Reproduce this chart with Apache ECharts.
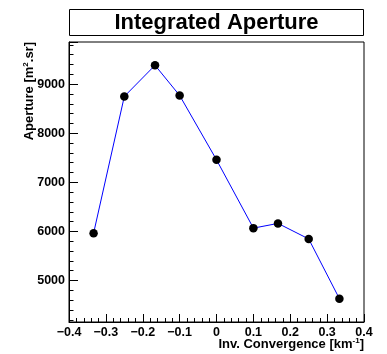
<!DOCTYPE html>
<html>
<head>
<meta charset="utf-8">
<script src="https://cdn.jsdelivr.net/npm/echarts@6/dist/echarts.min.js"></script>
<style>
html,body{margin:0;padding:0;background:#fff;}
#chart{width:387px;height:354px;}
</style>
</head>
<body>
<div id="chart"></div>
<script>
const titleText = 'Integrated Aperture';
const invConvergence = [-0.3333, -0.25, -0.1667, -0.1, 0, 0.1, 0.1667, 0.25, 0.3333];
const aperture = [5965, 8750, 9385, 8770, 7460, 6068, 6164, 5848, 4631];
const xMin = -0.4, xMax = 0.4, xStep = 0.1;
const yMin = 4156, yMax = 9859;

const FONT = '"Liberation Sans", Arial, Helvetica, sans-serif';
const chart = echarts.init(document.getElementById('chart'), null, {renderer: 'canvas'});

const points = invConvergence.map((x, i) => [x, aperture[i]]);

function fmtX(v) {
  const r = Math.round(v * 10) / 10;
  if (Math.abs(r) < 1e-9) return '0';
  return (r < 0 ? '\u2212' : '') + Math.abs(r).toFixed(1);
}

const nameRich = {
  m: {fontFamily: FONT, fontWeight: 'bold', fontSize: 13, color: '#000', lineHeight: 15},
  s: {fontFamily: FONT, fontWeight: 'bold', fontSize: 8, color: '#000', verticalAlign: 'top', lineHeight: 9}
};

chart.setOption({
  animation: false,
  backgroundColor: '#ffffff',
  title: {
    text: titleText,
    left: 216.5,
    top: 9,
    padding: 0,
    textAlign: 'center',
    textStyle: {fontFamily: FONT, fontWeight: 'bold', fontSize: 22, color: '#000', lineHeight: 27}
  },
  graphic: [{
    type: 'rect', z: -1, silent: true,
    shape: {x: 69.5, y: 9.5, width: 294, height: 26},
    style: {fill: '#fff', stroke: '#000', lineWidth: 1}
  }],
  grid: {
    left: 69, right: 23, top: 42, bottom: 32,
    containLabel: false, outerBoundsMode: 'none',
    show: true, borderColor: '#000', borderWidth: 1, backgroundColor: 'transparent'
  },
  xAxis: {
    type: 'value', min: xMin, max: xMax, interval: xStep,
    axisLine: {show: true, onZero: false, lineStyle: {color: '#000', width: 1}},
    axisTick: {show: true, inside: true, length: 8, lineStyle: {color: '#000'}},
    minorTick: {show: true, splitNumber: 5, length: 4, lineStyle: {color: '#000'}},
    splitLine: {show: false},
    axisLabel: {
      margin: 4, color: '#000', fontFamily: FONT, fontWeight: 'bold', fontSize: 12.5,
      formatter: fmtX, showMinLabel: true, showMaxLabel: true, hideOverlap: false
    },
    name: '{m|Inv. Convergence [km}{s|-1}{m|]}',
    nameLocation: 'end', nameGap: 0, nameMoveOverlap: false,
    nameTextStyle: {
      align: 'right', verticalAlign: 'top', padding: [15, 0, 0, 0],
      rich: nameRich
    }
  },
  yAxis: {
    type: 'value', min: yMin, max: yMax,
    axisLine: {show: true, onZero: false, lineStyle: {color: '#000', width: 1}},
    axisTick: {show: true, inside: true, length: 9, lineStyle: {color: '#000'}},
    minorTick: {show: true, splitNumber: 5, length: 4.5, lineStyle: {color: '#000'}},
    splitLine: {show: false},
    axisLabel: {
      margin: 4, color: '#000', fontFamily: FONT, fontWeight: 'bold', fontSize: 12.5,
      showMinLabel: false, showMaxLabel: false,
      formatter: v => String(Math.round(v))
    },
    name: '{m|Aperture [m}{s|2}{m|.sr]}',
    nameLocation: 'end', nameGap: 0, nameRotate: 90, nameMoveOverlap: false,
    nameTextStyle: {
      align: 'right', verticalAlign: 'bottom', padding: [0, 0, 32, 0],
      rich: nameRich
    }
  },
  series: [{
    type: 'line',
    data: points,
    symbol: 'circle', symbolSize: 8.5,
    itemStyle: {color: '#000'},
    lineStyle: {color: '#0000ff', width: 1},
    clip: false
  }]
});
</script>
</body>
</html>
